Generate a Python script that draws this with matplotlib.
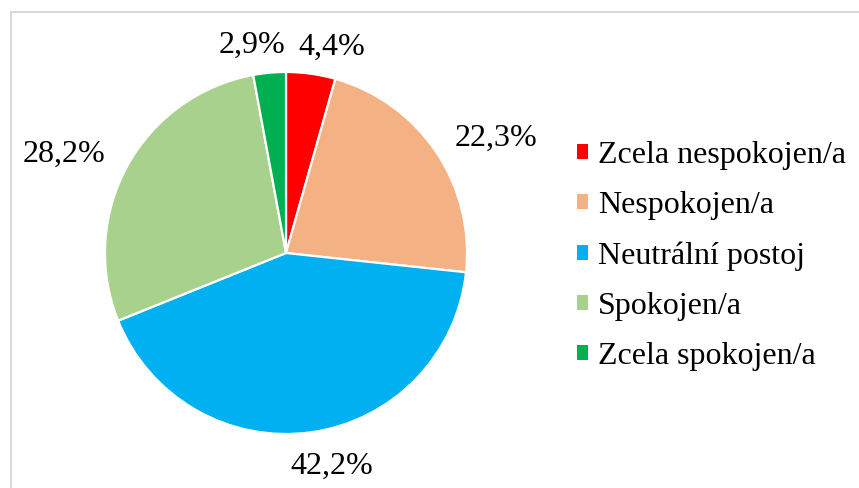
import matplotlib
matplotlib.use("Agg")
import matplotlib.pyplot as plt
from matplotlib.lines import Line2D
import numpy as np

categories = ["Zcela nespokojen/a", "Nespokojen/a", "Neutrální postoj",
              "Spokojen/a", "Zcela spokojen/a"]
values = [4.4, 22.3, 42.2, 28.2, 2.9]
labels = ["4,4%", "22,3%", "42,2%", "28,2%", "2,9%"]
colors = ["#FF0000", "#F4B183", "#00B0F0", "#A9D18E", "#00B050"]

plt.rcParams['font.family'] = ['Liberation Serif', 'DejaVu Serif']

fig = plt.figure(figsize=(8.59, 4.88), dpi=100)
W, H = 859, 488

# pie centre ~ (286, 253) px, radius ~181 px
cx, cy, r = 286, 253, 181
ax = fig.add_axes([(cx - r) / W, (H - cy - r) / H, 2 * r / W, 2 * r / H])
wedges, _ = ax.pie(values, colors=colors, startangle=90, counterclock=False,
                   radius=1, wedgeprops=dict(edgecolor='white', linewidth=1.6))
ax.set_xlim(-1, 1)
ax.set_ylim(-1, 1)
ax.set_aspect('equal')
ax.axis('off')

# data labels, outside end
for w, lab in zip(wedges, labels):
    ang = np.deg2rad((w.theta1 + w.theta2) / 2)
    c, s = np.cos(ang), np.sin(ang)
    x = 1.40 * c
    y = 1.17 * s - 0.02
    # labels near top/bottom get nudged sideways like Excel does
    if abs(s) > 0.95:
        x += 0.06 * np.sign(c)
    ax.text(x, y, lab, ha='center', va='center', fontsize=23, color='black',
            clip_on=False)

# legend
handles = [plt.Rectangle((0, 0), 1, 1, facecolor=col, edgecolor='none')
           for col in colors]
fig.legend(handles, categories, loc='center left',
           bbox_to_anchor=(577 / W, 1 - 256 / H), frameon=False,
           fontsize=23, handlelength=0.34, handleheight=0.34,
           handletextpad=0.32, labelspacing=0.66, borderpad=0, borderaxespad=0)

# chart area border (top and left visible)
fig.add_artist(Line2D([10.5 / W, 1], [1 - 11.5 / H, 1 - 11.5 / H],
                      transform=fig.transFigure, color='#D9D9D9', lw=1.5))
fig.add_artist(Line2D([10.5 / W, 10.5 / W], [0, 1 - 11.5 / H],
                      transform=fig.transFigure, color='#D9D9D9', lw=1.5))

fig.savefig("out.png", dpi=100, facecolor='white')
